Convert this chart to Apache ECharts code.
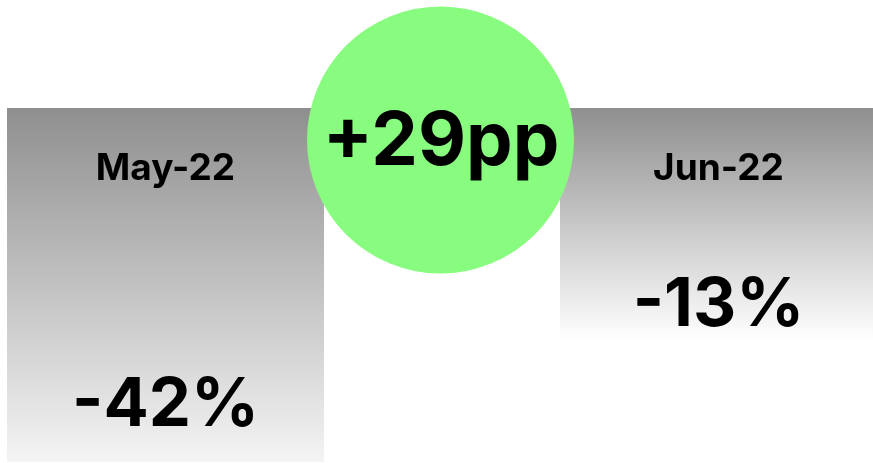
<!DOCTYPE html>
<html><head><meta charset="utf-8">
<script src="https://cdn.jsdelivr.net/npm/echarts@6/dist/echarts.min.js"></script>
<style>html,body{margin:0;padding:0;background:#fff}#c{width:873px;height:463px}</style>
</head><body><div id="c"></div>
<script>
const categories = ['May-22', 'Jun-22'];
const changeValues = [-42, -13];
const deltaLabel = '+' + (changeValues[1] - changeValues[0]) + 'pp';

const FONT = 'Inter, "Liberation Sans", Arial, sans-serif';
const labelDistances = [20, -2];
const gradientEnds = ['#f4f4f4', '#ffffff'];

function barFill(end) {
  return new echarts.graphic.LinearGradient(0, 0, 0, 1, [
    {offset: 0, color: '#8f8f8f'},
    {offset: 1, color: end}
  ]);
}

const chart = echarts.init(document.getElementById('c'), null, {renderer: 'canvas'});
chart.setOption({
  animation: false,
  backgroundColor: '#ffffff',
  grid: {left: 165.5, width: 553, top: 108, height: 354, outerBoundsMode: 'none', containLabel: false},
  xAxis: {
    type: 'category', data: categories, position: 'top', boundaryGap: false,
    axisLine: {show: false, onZero: false}, axisTick: {show: false},
    axisLabel: {inside: true, margin: 43, fontSize: 37, fontWeight: 'bold', color: '#000', fontFamily: FONT, lineHeight: 36},
    z: 10
  },
  yAxis: {type: 'value', min: -42, max: 42, startValue: 42, show: false, splitLine: {show: false}},
  series: [{
    type: 'bar',
    barWidth: 317,
    clip: false,
    data: changeValues.map((v, i) => ({
      value: v,
      label: {distance: labelDistances[i]},
      itemStyle: {color: barFill(gradientEnds[i])}
    })),
    label: {
      show: true, position: 'insideBottom',
      formatter: p => p.value + '%',
      fontSize: 67, lineHeight: 72, fontWeight: 'bold', color: '#000', fontFamily: FONT
    }
  }],
  graphic: [{
    type: 'circle', z: 100,
    shape: {cx: 440.5, cy: 140, r: 133.5},
    style: {fill: '#88fc7e'}
  }, {
    type: 'text', z: 101,
    x: 441, y: 143,
    style: {text: deltaLabel, fill: '#000', font: 'bold 74px ' + FONT, align: 'center', verticalAlign: 'middle'}
  }]
});
</script></body></html>
